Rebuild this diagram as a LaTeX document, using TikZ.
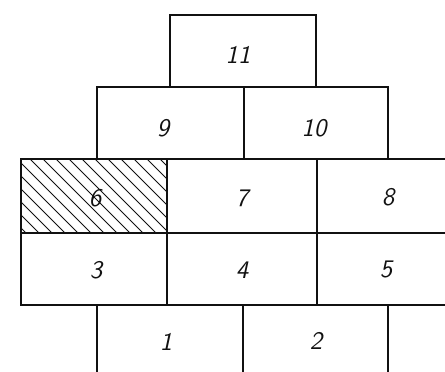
\documentclass[tikz,border=0pt]{standalone}
\usepackage{tikz}
\usetikzlibrary{positioning, calc}
\usepackage{xcolor}
\definecolor{inkblack}{HTML}{111111}

\tikzset{
  wall/.style={inkblack, line width=0.9pt},
  hatch/.style={inkblack, line width=0.45pt},
  bricknum/.style={text=inkblack, font=\Large\sffamily\itshape, inner sep=1pt}
}

\begin{document}
\begin{tikzpicture}[x=0.2mm, y=0.2mm]
        \useasboundingbox (0,0) rectangle (445,372);
        % hatching of brick 6
        \begin{scope}
          \clip (21,139) rectangle (167,213);
          \foreach \i in {-62,-49,...,170}
            \draw[hatch] (\i,214) -- ++(76,-76);
        \end{scope}
        % top courses
        \draw[wall] (170,285) rectangle (316,357);
        \draw[wall] (97,213) rectangle (388,285);
        \draw[wall] (244,213) -- (244,285);
        % middle courses
        \draw[wall] (445,213) -- (21,213) -- (21,67) -- (445,67);
        \draw[wall] (21,139) -- (445,139);
        \draw[wall] (167,67) -- (167,213);
        \draw[wall] (317,67) -- (317,213);
        % bottom course, cut off
        \foreach \x in {97,243,388}
          \draw[wall] (\x,67) -- (\x,0);
        % numbers
        \node[bricknum] (b11) at (238,317) {11};
        \node[bricknum] (b9) at (163,244) {9};
        \node[bricknum] (b10) at (314,244) {10};
        \node[bricknum] (b6) at (95,174) {6};
        \node[bricknum] (b7) at (242,174) {7};
        \node[bricknum] (b8) at (388,175) {8};
        \node[bricknum] (b3) at (96,102) {3};
        \node[bricknum] (b4) at (242,102) {4};
        \node[bricknum] (b5) at (386,103) {5};
        \node[bricknum] (b1) at (166,30) {1};
        \node[bricknum] (b2) at (316,31) {2};
      \end{tikzpicture}
\end{document}
